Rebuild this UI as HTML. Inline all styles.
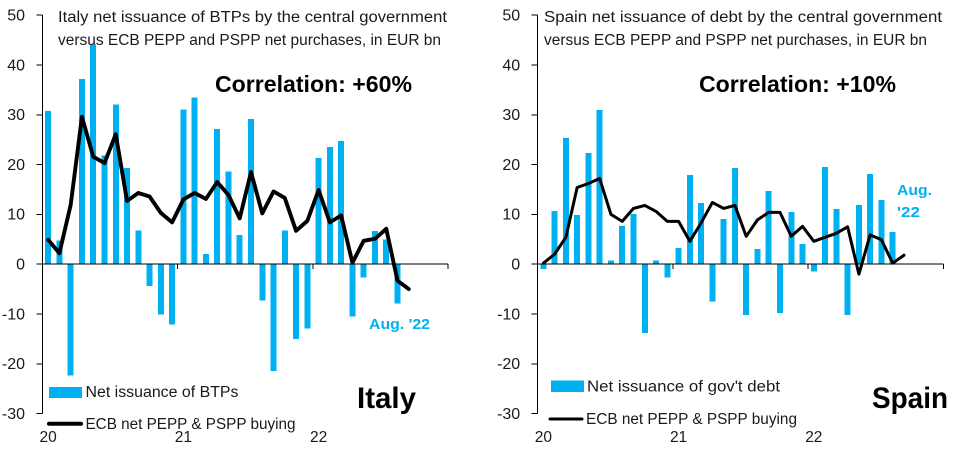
<!DOCTYPE html>
<html>
<head>
<meta charset="utf-8">
<style>
html,body{margin:0;padding:0;background:#fff;width:956px;height:460px;overflow:hidden}
svg{display:block}
text{font-family:"Liberation Sans",sans-serif;fill:#1a1a1a}
.t{font-size:15.5px}
.b{font-weight:bold;fill:#000}
.c{font-weight:bold;fill:#00b0f0;font-size:15px}
</style>
</head>
<body>
<svg id="chart" width="956" height="460" viewBox="0 0 956 460" xmlns="http://www.w3.org/2000/svg">
  <g id="italy">
    <g id="italy-marks"></g>
    <text class="t" x="58" y="22" textLength="389" lengthAdjust="spacingAndGlyphs">Italy net issuance of BTPs by the central government</text>
    <text class="t" x="58" y="45" textLength="383" lengthAdjust="spacingAndGlyphs">versus ECB PEPP and PSPP net purchases, in EUR bn</text>
    <text class="b" x="215" y="92" font-size="23" textLength="197" lengthAdjust="spacingAndGlyphs">Correlation: +60%</text>
    <text class="c" x="369" y="329" textLength="61" lengthAdjust="spacingAndGlyphs">Aug. '22</text>
    <text class="b" x="357" y="408" font-size="30" textLength="59" lengthAdjust="spacingAndGlyphs">Italy</text>
    <rect x="49" y="387" width="33" height="11" fill="#00b0f0"></rect>
    <text class="t" x="85.5" y="397" textLength="153" lengthAdjust="spacingAndGlyphs">Net issuance of BTPs</text>
    <line x1="49" y1="423.7" x2="81" y2="423.7" stroke="#000" stroke-width="4" stroke-linecap="round"></line>
    <text class="t" x="85.5" y="429" textLength="210" lengthAdjust="spacingAndGlyphs">ECB net PEPP &amp; PSPP buying</text>
  </g>
  <g id="spain">
    <g id="spain-marks"></g>
    <text class="t" x="544" y="22" textLength="398" lengthAdjust="spacingAndGlyphs">Spain net issuance of debt by the central government</text>
    <text class="t" x="544" y="45" textLength="383" lengthAdjust="spacingAndGlyphs">versus ECB PEPP and PSPP net purchases, in EUR bn</text>
    <text class="b" x="699" y="92" font-size="23" textLength="197" lengthAdjust="spacingAndGlyphs">Correlation: +10%</text>
    <text class="c" x="897" y="195" textLength="35" lengthAdjust="spacingAndGlyphs">Aug.</text>
    <text class="c" x="897" y="217" textLength="23" lengthAdjust="spacingAndGlyphs">'22</text>
    <text class="b" x="872" y="408" font-size="30" textLength="76" lengthAdjust="spacingAndGlyphs">Spain</text>
    <rect x="551" y="380.5" width="33" height="11.5" fill="#00b0f0"></rect>
    <text class="t" x="587" y="391.5" textLength="193" lengthAdjust="spacingAndGlyphs">Net issuance of gov't debt</text>
    <line x1="550" y1="419" x2="582" y2="419" stroke="#000" stroke-width="3" stroke-linecap="round"></line>
    <text class="t" x="586" y="424" textLength="211" lengthAdjust="spacingAndGlyphs">ECB net PEPP &amp; PSPP buying</text>
  </g>
</svg>
<script>
var yTicks = [50, 40, 30, 20, 10, 0, -10, -20, -30];
var xYearLabels = ['20', '21', '22'];
var italyBars = [30.8, 4.8, -22.3, 37.2, 44.1, 21.8, 32.1, 19.3, 6.8, -4.4, -10.1, -12.1, 31.1, 33.5, 2, 27.1, 18.6, 5.9, 29.2, -7.3, -21.4, 6.8, -15, -12.9, 21.3, 23.5, 24.7, -10.5, -2.7, 6.7, 5, -7.9];
var italyLine = [4.9, 2.2, 11.9, 29.6, 21.6, 20.3, 26.1, 12.7, 14.3, 13.6, 10.3, 8.4, 13, 14.3, 13.1, 16.5, 13.9, 9.2, 18.5, 10.2, 14.6, 13.3, 6.7, 8.7, 14.9, 8.4, 9.8, 0.3, 4.7, 5.1, 7.1, -3.3, -5];
var spainBars = [-1, 10.7, 25.3, 9.9, 22.3, 31, 0.7, 7.7, 10.1, -13.8, 0.7, -2.7, 3.3, 17.9, 12.3, -7.5, 9.1, 19.3, -10.2, 3.1, 14.7, -9.8, 10.5, 4.1, -1.5, 19.5, 11.1, -10.2, 11.9, 18.1, 12.9, 6.5];
var spainLine = [0.2, 2, 5.4, 15.4, 16.2, 17.2, 10, 8.6, 11.2, 11.8, 10.6, 8.6, 8.6, 4.6, 8.3, 12.4, 11.2, 11.8, 5.6, 8.9, 10.4, 10.4, 5.6, 7.6, 4.6, 5.4, 6.2, 7.5, -2, 5.9, 4.9, 0.2, 1.8];

var NS = 'http://www.w3.org/2000/svg';
var MONTH = 11.27;
var Y_ZERO = 264.2;
var Y_UNIT = 4.98;

function yScale(v) { return Y_ZERO - v * Y_UNIT; }
function xScale(axisX, i) { return axisX + (i + 0.5) * MONTH; }
function make(parent, tag) {
  var el = document.createElementNS(NS, tag);
  parent.appendChild(el);
  return el;
}

function drawPanel(groupId, prefix, axisX, bars, lineValues, lineWidth) {
  var g = document.getElementById(groupId);

  bars.forEach(function (v, i) {
    var r = make(g, 'rect');
    
    
    r.setAttribute('x', xScale(axisX, i) - 3);
    r.setAttribute('width', 6);
    r.setAttribute('y', Math.min(yScale(v), yScale(0)));
    r.setAttribute('height', Math.abs(yScale(v) - yScale(0)));
    r.setAttribute('fill', '#00b0f0');
    r.setAttribute('shape-rendering', 'crispEdges');
  });

  var yAxis = make(g, 'line');
  
  
  yAxis.setAttribute('x1', axisX);
  yAxis.setAttribute('x2', axisX);
  yAxis.setAttribute('y1', yScale(50));
  yAxis.setAttribute('y2', yScale(-30));
  yAxis.setAttribute('stroke', '#000');
  yAxis.setAttribute('stroke-width', 1);
  yAxis.setAttribute('shape-rendering', 'crispEdges');

  var xAxis = make(g, 'line');
  
  
  xAxis.setAttribute('x1', axisX);
  xAxis.setAttribute('x2', axisX + 36 * MONTH);
  xAxis.setAttribute('y1', yScale(0));
  xAxis.setAttribute('y2', yScale(0));
  xAxis.setAttribute('stroke', '#000');
  xAxis.setAttribute('stroke-width', 1);
  xAxis.setAttribute('shape-rendering', 'crispEdges');

  yTicks.forEach(function (v) {
    var tick = make(g, 'line');
    
    
    tick.setAttribute('x1', axisX - 6);
    tick.setAttribute('x2', axisX);
    tick.setAttribute('y1', yScale(v));
    tick.setAttribute('y2', yScale(v));
    tick.setAttribute('stroke', '#000');
    tick.setAttribute('stroke-width', 1);
    tick.setAttribute('shape-rendering', 'crispEdges');

    var label = make(g, 'text');
    
    
    label.setAttribute('x', axisX - 17.5);
    label.setAttribute('y', yScale(v) + 5.3);
    label.setAttribute('text-anchor', 'end');
    label.setAttribute('font-size', '16');
    label.textContent = String(v);
  });

  for (var k = 1; k <= xYearLabels.length; k++) {
    var xt = make(g, 'line');
    
    
    xt.setAttribute('x1', axisX + k * 12 * MONTH);
    xt.setAttribute('x2', axisX + k * 12 * MONTH);
    xt.setAttribute('y1', yScale(0));
    xt.setAttribute('y2', yScale(0) + 5);
    xt.setAttribute('stroke', '#000');
    xt.setAttribute('stroke-width', 1);
    xt.setAttribute('shape-rendering', 'crispEdges');
  }

  xYearLabels.forEach(function (s, k) {
    var xl = make(g, 'text');
    
    
    xl.setAttribute('x', xScale(axisX, k * 12));
    xl.setAttribute('y', 442);
    xl.setAttribute('text-anchor', 'middle');
    xl.setAttribute('font-size', '15.5');
    xl.textContent = s;
  });

  var pl = make(g, 'polyline');
  
  
  pl.setAttribute('points', lineValues.map(function (v, i) {
    return xScale(axisX, i).toFixed(2) + ',' + yScale(v).toFixed(2);
  }).join(' '));
  pl.setAttribute('fill', 'none');
  pl.setAttribute('stroke', '#000');
  pl.setAttribute('stroke-width', lineWidth);
  pl.setAttribute('stroke-linejoin', 'round');
  pl.setAttribute('stroke-linecap', 'round');
}

drawPanel('italy-marks', 'italy', 42.5, italyBars, italyLine, 3.9);
drawPanel('spain-marks', 'spain', 537.7, spainBars, spainLine, 3);
</script>
</body>
</html>
